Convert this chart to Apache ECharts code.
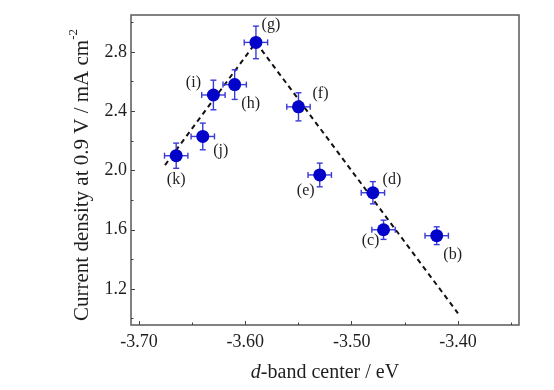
<!DOCTYPE html>
<html>
<head>
<meta charset="utf-8">
<script src="https://cdn.jsdelivr.net/npm/echarts@6/dist/echarts.min.js"></script>
<style>html,body{margin:0;padding:0;background:#fff;}#c{width:554px;height:390px;}</style>
</head>
<body>
<div id="c"></div>
<script>
// ---- data ----
const sampleLabels = ['(b)', '(c)', '(d)', '(e)', '(f)', '(g)', '(h)', '(i)', '(j)', '(k)'];
const dBandCenter = [-3.42, -3.47, -3.48, -3.53, -3.55, -3.59, -3.61, -3.63, -3.64, -3.665];
const currentDensity = [1.56, 1.60, 1.85, 1.97, 2.43, 2.865, 2.58, 2.51, 2.23, 2.10];
const xError = [0.011, 0.011, 0.011, 0.011, 0.011, 0.011, 0.011, 0.011, 0.011, 0.011];
const yError = [0.06, 0.065, 0.075, 0.08, 0.095, 0.11, 0.10, 0.10, 0.09, 0.085];
const trendX = [-3.6755, -3.59, -3.40];
const trendY = [2.037, 2.865, 1.036];
const xTicks = [-3.70, -3.60, -3.50, -3.40];
const xMinorTicks = [-3.65, -3.55, -3.45, -3.35];
const yTicks = [1.2, 1.6, 2.0, 2.4, 2.8];
const yMinorTicks = [1.0, 1.4, 1.8, 2.2, 2.6, 3.0];

// ---- styling (label offsets in px, not data) ----
const labelOffset = {
  '(b)': [16, 19], '(c)': [-13, 11], '(d)': [19, -13], '(e)': [-14, 16], '(f)': [22, -13],
  '(g)': [15, -18], '(h)': [16, 19], '(i)': [-20, -12], '(j)': [18, 14], '(k)': [0, 24]
};
const FONT = "'Liberation Serif', 'Times New Roman', serif";
const X_MIN = -3.7075, X_MAX = -3.3426, Y_MIN = 0.957, Y_MAX = 3.05;
const markerColor = '#0202c8';
const errColor = '#3a3ad8';
const textColor = '#1e1e1e';

const points = dBandCenter.map((x, i) => ({
  value: [x, currentDensity[i]],
  name: sampleLabels[i],
  label: { offset: labelOffset[sampleLabels[i]] }
}));
const errData = dBandCenter.map((x, i) => [x, currentDensity[i], xError[i], yError[i]]);
const trendData = trendX.map((x, i) => [x, trendY[i]]);

const chart = echarts.init(document.getElementById('c'), null, { renderer: 'canvas' });
const tickStyle = { color: '#444', width: 1 };
chart.setOption({
  animation: false,
  grid: { left: 131, top: 15, right: 35, bottom: 65, show: true, borderColor: '#5a5a5a', borderWidth: 1.5, backgroundColor: 'transparent' },
  xAxis: [{
    type: 'value', min: X_MIN, max: X_MAX,
    axisLine: { show: false },
    splitLine: { show: false },
    axisTick: { show: true, inside: true, length: 4, customValues: xTicks, lineStyle: tickStyle },
    axisLabel: { customValues: xTicks, formatter: v => v.toFixed(2), fontFamily: FONT, fontSize: 18, color: textColor, margin: 8 },
    name: '{i|d}{n|-band center / eV}',
    nameLocation: 'middle', nameGap: 38,
    nameTextStyle: {
      rich: {
        i: { fontFamily: FONT, fontSize: 20, fontStyle: 'italic', color: textColor },
        n: { fontFamily: FONT, fontSize: 20, color: textColor }
      }
    }
  }, {
    type: 'value', min: X_MIN, max: X_MAX, position: 'bottom',
    axisLine: { show: false }, splitLine: { show: false },
    axisTick: { show: true, inside: true, length: 2.5, customValues: xMinorTicks, lineStyle: tickStyle },
    axisLabel: { show: false }
  }],
  yAxis: [{
    type: 'value', min: Y_MIN, max: Y_MAX,
    axisLine: { show: false },
    splitLine: { show: false },
    axisTick: { show: true, inside: true, length: 4, customValues: yTicks, lineStyle: tickStyle },
    axisLabel: { customValues: yTicks, formatter: v => v.toFixed(1), fontFamily: FONT, fontSize: 18, color: textColor, margin: 4 },
    name: '{t|Current density at 0.9 V / mA cm}{s|-2}',
    nameLocation: 'middle', nameGap: 34, nameRotate: 90,
    nameTextStyle: {
      padding: [0, 0, 0, -10],
      rich: {
        t: { fontFamily: FONT, fontSize: 21, color: textColor, lineHeight: 30 },
        s: { fontFamily: FONT, fontSize: 13, color: textColor, verticalAlign: 'top', lineHeight: 14 }
      }
    }
  }, {
    type: 'value', min: Y_MIN, max: Y_MAX, position: 'left',
    axisLine: { show: false }, splitLine: { show: false },
    axisTick: { show: true, inside: true, length: 2.5, customValues: yMinorTicks, lineStyle: tickStyle },
    axisLabel: { show: false }
  }],
  series: [{
    type: 'line', data: trendData, xAxisIndex: 0, yAxisIndex: 0,
    symbol: 'none', z: 1,
    lineStyle: { color: '#111', width: 2, type: [5, 4] }
  }, {
    type: 'custom', data: errData, xAxisIndex: 0, yAxisIndex: 0, z: 2,
    encode: { x: 0, y: 1 },
    renderItem: function (params, api) {
      const x = api.value(0), y = api.value(1), ex = api.value(2), ey = api.value(3);
      const l = api.coord([x - ex, y]), r = api.coord([x + ex, y]);
      const t = api.coord([x, y + ey]), b = api.coord([x, y - ey]);
      const cap = 3;
      const style = { stroke: errColor, lineWidth: 1.4 };
      const ln = (x1, y1, x2, y2) => ({ type: 'line', shape: { x1, y1, x2, y2 }, style });
      return {
        type: 'group', children: [
          ln(l[0], l[1], r[0], r[1]),
          ln(l[0], l[1] - cap, l[0], l[1] + cap),
          ln(r[0], r[1] - cap, r[0], r[1] + cap),
          ln(t[0], t[1], b[0], b[1]),
          ln(t[0] - cap, t[1], t[0] + cap, t[1]),
          ln(b[0] - cap, b[1], b[0] + cap, b[1])
        ]
      };
    }
  }, {
    type: 'scatter', data: points, xAxisIndex: 0, yAxisIndex: 0, z: 3,
    symbol: 'circle', symbolSize: 13,
    itemStyle: { color: markerColor, opacity: 1 },
    label: {
      show: true, position: 'inside', formatter: p => p.name,
      fontFamily: FONT, fontSize: 16, color: textColor, opacity: 1,
      textBorderWidth: 0
    }
  }]
});
</script>
</body>
</html>
